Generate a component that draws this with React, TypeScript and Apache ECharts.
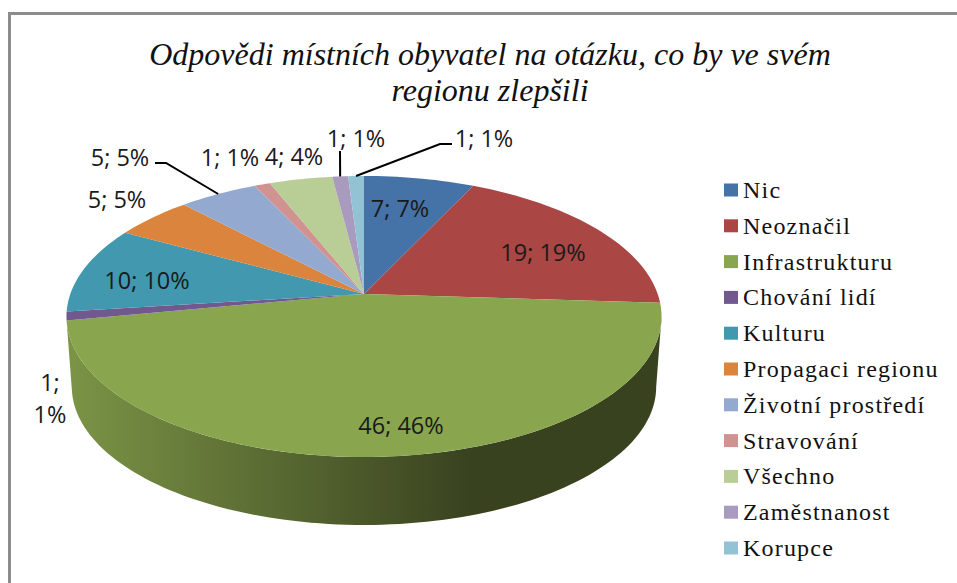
import React, { useEffect, useRef } from "react";
import * as echarts from "echarts";

const categories = ["Nic", "Neoznačil", "Infrastrukturu", "Chování lidí", "Kulturu", "Propagaci regionu", "Životní prostředí", "Stravování", "Všechno", "Zaměstnanost", "Korupce"];
const values = [7, 19, 46, 1, 10, 5, 5, 1, 4, 1, 1];
const colors = ["#4572A7", "#AA4643", "#89A54E", "#71588F", "#4198AF", "#DB843D", "#93A9CF", "#D19392", "#B9CD96", "#A99BBD", "#92C3D5"];
const titleLines = ["Odpovědi místních obyvatel na otázku, co by ve svém", "regionu zlepšili"];

// label anchors (centre of each text block), not marks
const labelPos: [number, number][] = [[400, 208], [543, 252], [401, 425], [50, 398], [147, 280], [117, 199], [120, 157], [230, 157], [294, 156], [356, 138], [484, 138]];
const leaders: Record<number, [number, number][]> = {
  6: [[155, 163], [166, 163]],
  9: [[340, 151]],
  10: [[452, 144], [440, 144]],
};

const total = values.reduce((a, b) => a + b, 0);
const AX = 364, AY = 294, A = 293.7, B = 136.9, K = 0.16, DEPTH = 70.5, BOTTOM_SCALE = 0.982;

function rim(frac: number): [number, number, number] {
  const t = frac * 2 * Math.PI;
  const u = Math.sin(t), v = Math.cos(t), w = 1 + K * v;
  return [AX + (A * u) / w, AY - (B * v) / w, v];
}

function rimBottom(frac: number): [number, number] {
  const [x, y] = rim(frac);
  const cy = 316.5;
  return [AX + (x - AX) * BOTTOM_SCALE, cy + DEPTH + (y - cy) * BOTTOM_SCALE];
}

function cum(i: number) {
  let s = 0;
  for (let k = 0; k < i; k++) s += values[k];
  return s / total;
}

const frontFrom = Math.acos(-K) / (2 * Math.PI);
const frontTo = 1 - frontFrom;

function sliceTop(i: number) {
  const a = cum(i), b = cum(i + 1);
  const n = Math.max(4, Math.ceil((b - a) * 240));
  const pts: number[][] = [[AX, AY]];
  for (let j = 0; j <= n; j++) {
    const p = rim(a + ((b - a) * j) / n);
    pts.push([p[0], p[1]]);
  }
  return pts;
}

function sliceSide(i: number) {
  const a = Math.max(cum(i), frontFrom), b = Math.min(cum(i + 1), frontTo);
  if (b - a < 0.02) return null;
  const n = Math.ceil((b - a) * 240);
  const upper: number[][] = [], lower: number[][] = [];
  for (let j = 0; j <= n; j++) {
    const f = a + ((b - a) * j) / n;
    const p = rim(f);
    upper.push([p[0], p[1]]);
    lower.unshift(rimBottom(f));
  }
  return upper.concat(lower);
}

export default function App() {
  const ref = useRef<HTMLDivElement>(null);
  useEffect(() => {
    const chart = echarts.init(ref.current!, undefined, { renderer: "svg" });
    const sideSeries: any = {
      type: "custom",
      coordinateSystem: "none",
      silent: true,
      z: 1,
      data: values.map((v, i) => [i, v]),
      renderItem: (params: any) => {
        const i = params.dataIndex;
        const pts = sliceSide(i);
        if (!pts) return { type: "group", children: [] };
        return {
          type: "polygon",
          shape: { points: pts },
          style: {
            fill: new echarts.graphic.LinearGradient(67, 0, 470, 0, [
              { offset: 0, color: "#7B9446" },
              { offset: 1, color: "#39421F" },
            ], true),
          },
        };
      },
    };
    const slices: any[] = categories.map((name, i) => ({
      type: "custom",
      name,
      coordinateSystem: "none",
      z: 2,
      itemStyle: { color: colors[i] },
      data: [[values[i]]],
      renderItem: () => ({
        type: "polygon",
        shape: { points: sliceTop(i) },
        style: { fill: colors[i] },
      }),
    }));
    const labelSeries: any = {
      type: "custom",
      coordinateSystem: "none",
      silent: true,
      z: 5,
      data: values.map((v, i) => [i, v]),
      renderItem: (params: any) => {
        const i = params.dataIndex;
        const v = values[i];
        const pct = Math.round((v / total) * 100);
        const children: any[] = [];
        const lead = leaders[i];
        if (lead) {
          const mid = (cum(i) + cum(i + 1)) / 2;
          const end = rim(mid);
          children.push({
            type: "polyline",
            shape: { points: [...lead, [end[0], end[1]]] },
            style: { stroke: "#000", lineWidth: 2, fill: "none" },
          });
        }
        children.push({
          type: "text",
          x: labelPos[i][0],
          y: labelPos[i][1],
          style: {
            text: i === 3 ? `${v};\n${pct}%` : `${v}; ${pct}%`,
            fontFamily: "Open Sans",
            fontSize: 23.5,
            lineHeight: 32,
            fill: "#1a1a1a",
            align: "center",
            verticalAlign: "middle",
          },
        });
        return { type: "group", children };
      },
    };
    chart.setOption({
      animation: false,
      backgroundColor: "#fff",
      legend: {
        orient: "vertical",
        left: 719,
        top: 173,
        itemWidth: 14,
        itemHeight: 13,
        itemGap: 11.8,
        icon: "rect",
        selectedMode: false,
        data: categories,
        textStyle: { fontFamily: "Liberation Serif", fontSize: 24, color: "#111", lineHeight: 24 },
      },
      graphic: [
        { type: "line", shape: { x1: 8, y1: 13.5, x2: 957, y2: 13.5 }, style: { stroke: "#8c8c8c", lineWidth: 3 } },
        { type: "line", shape: { x1: 9.5, y1: 12, x2: 9.5, y2: 583 }, style: { stroke: "#8c8c8c", lineWidth: 3 } },
        ...titleLines.map((t, i) => ({
          type: "text",
          x: 490,
          y: 54 + i * 36,
          style: { text: t, fontFamily: "Liberation Serif", fontStyle: "italic", fontSize: 32, fill: "#111", align: "center", verticalAlign: "middle" },
        })),
      ],
      series: [sideSeries, ...slices, labelSeries],
    });
    ref.current!.querySelectorAll("text").forEach((el) => {
      if (categories.includes(el.textContent || "")) (el as any).style.letterSpacing = "1.2px";
    });
    return () => chart.dispose();
  }, []);
  return <div ref={ref} style={{ position: "fixed", left: 0, top: 0, width: 957, height: 583 }} />;
}
